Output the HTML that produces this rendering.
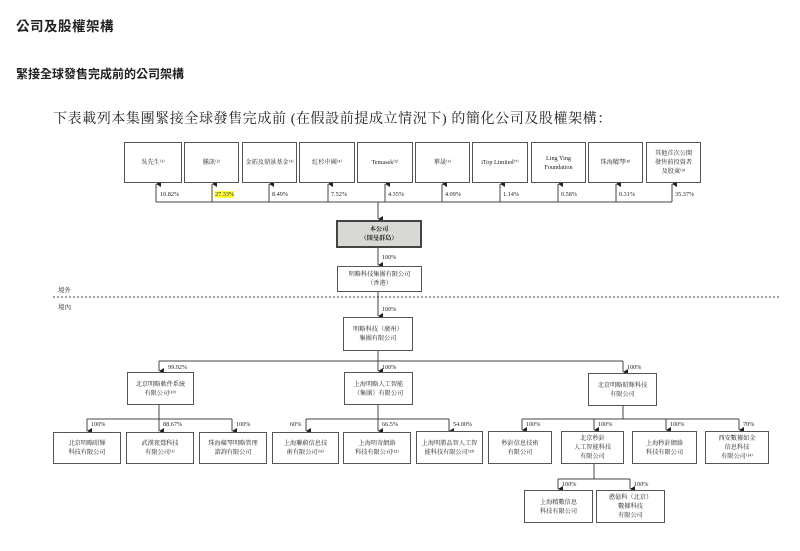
<!DOCTYPE html>
<html><head><meta charset="utf-8"><style>
body{margin:0;width:800px;height:551px;background:#fff;position:relative;overflow:hidden;font-family:"Liberation Serif","Noto Serif CJK SC",serif;color:#222}
.t{position:absolute;white-space:nowrap}
.b{position:absolute;border:1.3px solid #555;box-sizing:border-box;display:flex;align-items:center;justify-content:center;text-align:center;font-size:6.2px;line-height:9px;background:#fff}
.p{position:absolute;font-size:6.2px;white-space:nowrap}
svg{position:absolute;left:0;top:0}
</style></head><body>
<div class="t" style="left:16px;top:15px;font-size:13.5px;font-weight:bold;font-family:'Liberation Sans','Noto Sans CJK TC',sans-serif;letter-spacing:0.5px">公司及股權架構</div>
<div class="t" style="left:16px;top:65px;font-size:12px;font-weight:bold;font-family:'Liberation Sans','Noto Sans CJK TC',sans-serif">緊接全球發售完成前的公司架構</div>
<div class="t" style="left:53px;top:108px;font-size:14px;letter-spacing:0.6px;font-family:'Liberation Serif','Noto Serif CJK SC',serif">下表載列本集團緊接全球發售完成前 (在假設前提成立情況下) 的簡化公司及股權架構：</div>

<svg width="800" height="551">
<defs><marker id="a" markerWidth="6" markerHeight="6" refX="3" refY="5" orient="auto" markerUnits="userSpaceOnUse"><path d="M0,0 L6,0 L3,5z" fill="#222"/></marker>
<marker id="u" markerWidth="6" markerHeight="6" refX="3" refY="0" orient="auto-start-reverse" markerUnits="userSpaceOnUse"><path d="M0,5 L6,5 L3,0z" fill="#222"/></marker></defs>
<g stroke="#444" stroke-width="1" fill="none">
<path d="M156,202H672"/>
<path d="M156,202V184" marker-end="url(#u)"/><path d="M212,202V184" marker-end="url(#u)"/><path d="M269,202V184" marker-end="url(#u)"/><path d="M328,202V184" marker-end="url(#u)"/><path d="M385,202V184" marker-end="url(#u)"/><path d="M442,202V184" marker-end="url(#u)"/><path d="M500,202V184" marker-end="url(#u)"/><path d="M558,202V184" marker-end="url(#u)"/><path d="M616,202V184" marker-end="url(#u)"/><path d="M672,202V184" marker-end="url(#u)"/>
<path d="M378,202V219" marker-end="url(#a)"/>
<path d="M378,248V265" marker-end="url(#a)"/>
<path d="M378,292V316" marker-end="url(#a)"/>
<path d="M378,351V361M159,361H623"/>
<path d="M159,361V371" marker-end="url(#a)"/><path d="M378,361V371" marker-end="url(#a)"/><path d="M623,361V372" marker-end="url(#a)"/>
<path d="M159,405V419M87,419H232"/>
<path d="M87,419V431" marker-end="url(#a)"/><path d="M159,419V431" marker-end="url(#a)"/><path d="M232,419V431" marker-end="url(#a)"/>
<path d="M378,405V419M306,419H449"/>
<path d="M306,419V431" marker-end="url(#a)"/><path d="M378,419V431" marker-end="url(#a)"/><path d="M449,419V431" marker-end="url(#a)"/>
<path d="M623,406V419M522,419H739"/>
<path d="M522,419V430" marker-end="url(#a)"/><path d="M594,419V430" marker-end="url(#a)"/><path d="M666,419V430" marker-end="url(#a)"/><path d="M739,419V430" marker-end="url(#a)"/>
<path d="M594,464V479M558,479H630"/>
<path d="M558,479V489" marker-end="url(#a)"/><path d="M630,479V489" marker-end="url(#a)"/>
</g>
<path d="M53,297H780" stroke="#444" stroke-width="1" stroke-dasharray="2,2"/>
</svg>

<div class="b" style="left:124px;top:142px;width:58px;height:41px">吳先生⁽¹⁾</div>
<div class="b" style="left:184px;top:142px;width:55px;height:41px">騰訊⁽²⁾</div>
<div class="b" style="left:242px;top:142px;width:55px;height:41px">金拓及鼎景基金⁽³⁾</div>
<div class="b" style="left:299px;top:142px;width:56px;height:41px">紅杉中國⁽⁴⁾</div>
<div class="b" style="left:357px;top:142px;width:56px;height:41px">Temasek⁽⁵⁾</div>
<div class="b" style="left:415px;top:142px;width:55px;height:41px">華晟⁽⁶⁾</div>
<div class="b" style="left:472px;top:142px;width:56px;height:41px">iTop Limited⁽⁷⁾</div>
<div class="b" style="left:531px;top:142px;width:55px;height:41px">Ling Ying<br>Foundation</div>
<div class="b" style="left:588px;top:142px;width:55px;height:41px">珠海曜琴⁽⁸⁾</div>
<div class="b" style="left:646px;top:142px;width:55px;height:41px">其他首次公開<br>發售前投資者<br>及股東⁽⁹⁾</div>

<div class="p" style="left:160px;top:191px">10.82%</div>
<div class="p" style="left:215px;top:191px;background:#ffff3a">27.33%</div>
<div class="p" style="left:272px;top:191px">8.49%</div>
<div class="p" style="left:331px;top:191px">7.52%</div>
<div class="p" style="left:388px;top:191px">4.35%</div>
<div class="p" style="left:445px;top:191px">4.09%</div>
<div class="p" style="left:503px;top:191px">1.14%</div>
<div class="p" style="left:561px;top:191px">0.58%</div>
<div class="p" style="left:619px;top:191px">0.31%</div>
<div class="p" style="left:675px;top:191px">35.37%</div>

<div class="b" style="left:336px;top:220px;width:86px;height:28px;background:#d8d8d4;border:2px solid #444;font-weight:bold">本公司<br>（開曼群島）</div>
<div class="p" style="left:382px;top:254px">100%</div>
<div class="b" style="left:337px;top:266px;width:85px;height:26px">明略科技集團有限公司<br>（香港）</div>
<div class="t" style="left:58px;top:285px;font-size:6.5px">境外</div>
<div class="t" style="left:58px;top:302px;font-size:6.5px">境內</div>
<div class="p" style="left:382px;top:306px">100%</div>
<div class="b" style="left:343px;top:317px;width:70px;height:34px">明略科技（廣州）<br>集團有限公司</div>

<div class="p" style="left:168px;top:364px">99.92%</div>
<div class="p" style="left:382px;top:364px">100%</div>
<div class="p" style="left:627px;top:364px">100%</div>
<div class="b" style="left:127px;top:372px;width:67px;height:33px">北京明略軟件系統<br>有限公司⁽¹⁰⁾</div>
<div class="b" style="left:344px;top:372px;width:69px;height:33px">上海明略人工智能<br>（集團）有限公司</div>
<div class="b" style="left:588px;top:373px;width:69px;height:33px">北京明略昭輝科技<br>有限公司</div>

<div class="p" style="left:91px;top:421px">100%</div>
<div class="p" style="left:163px;top:421px">88.67%</div>
<div class="p" style="left:236px;top:421px">100%</div>
<div class="p" style="left:290px;top:421px">60%</div>
<div class="p" style="left:382px;top:421px">66.5%</div>
<div class="p" style="left:453px;top:421px">54.00%</div>
<div class="p" style="left:526px;top:421px">100%</div>
<div class="p" style="left:598px;top:421px">100%</div>
<div class="p" style="left:670px;top:421px">100%</div>
<div class="p" style="left:743px;top:421px">70%</div>

<div class="b" style="left:53px;top:432px;width:68px;height:32px">北京明略昭輝<br>科技有限公司</div>
<div class="b" style="left:126px;top:432px;width:68px;height:32px">武漢夜鶯科技<br>有限公司⁽¹⁾</div>
<div class="b" style="left:199px;top:432px;width:68px;height:32px">珠海橫琴明略管理<br>諮詢有限公司</div>
<div class="b" style="left:272px;top:432px;width:67px;height:32px">上海聯蔚信息技<br>術有限公司⁽¹¹⁾</div>
<div class="b" style="left:343px;top:432px;width:68px;height:32px">上海明奇網絡<br>科技有限公司⁽¹²⁾</div>
<div class="b" style="left:416px;top:431px;width:67px;height:33px">上海明勝品智人工智<br>能科技有限公司⁽¹³⁾</div>
<div class="b" style="left:488px;top:431px;width:64px;height:33px">秒針信息技術<br>有限公司</div>
<div class="b" style="left:561px;top:431px;width:63px;height:33px">北京秒針<br>人工智能科技<br>有限公司</div>
<div class="b" style="left:632px;top:431px;width:65px;height:33px">上海秒針網絡<br>科技有限公司</div>
<div class="b" style="left:705px;top:431px;width:64px;height:33px">西安數據如金<br>信息科技<br>有限公司⁽¹⁴⁾</div>

<div class="p" style="left:562px;top:481px">100%</div>
<div class="p" style="left:634px;top:481px">100%</div>
<div class="b" style="left:524px;top:490px;width:69px;height:33px">上海精數信息<br>科技有限公司</div>
<div class="b" style="left:596px;top:490px;width:69px;height:33px">憨億科（北京）<br>數據科技<br>有限公司</div>
</body></html>
